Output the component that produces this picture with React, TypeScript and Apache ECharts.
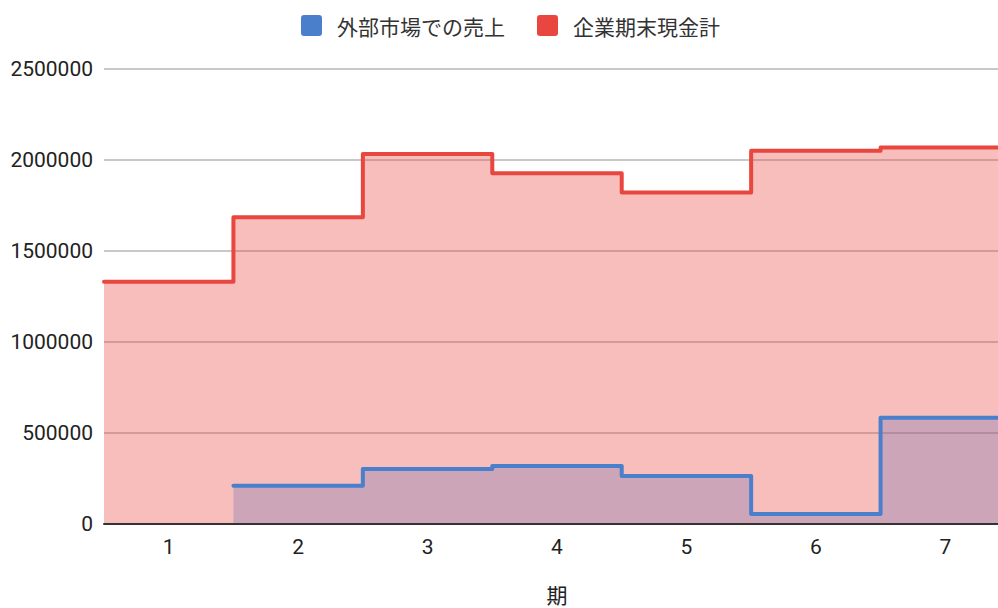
import React, { useEffect, useRef } from "react";
import * as echarts from "echarts";

const periods = ["1", "2", "3", "4", "5", "6", "7"];
const externalSales: (number | null)[] = [null, 210000, 302000, 318000, 264000, 55000, 584000];
const cashTotal: number[] = [1331000, 1685000, 2033000, 1927000, 1822000, 2051000, 2068000];
const seriesNames = ["外部市場での売上", "企業期末現金計"];
const yTicks = { min: 0, max: 2500000, interval: 500000 };

// Build step points at category boundaries (i - 0.5 .. i + 0.5 in 1-based period units)
function stepPoints(values: (number | null)[]) {
  const pts: [number, number][] = [];
  values.forEach((v, i) => {
    if (v !== null) pts.push([i + 0.5, v]);
  });
  const last = values[values.length - 1];
  if (last !== null) pts.push([values.length + 0.5, last]);
  return pts;
}

const legendIcon =
  "path://M3,0 H18 A3,3 0 0 1 21,3 V18 A3,3 0 0 1 18,21 H3 A3,3 0 0 1 0,18 V3 A3,3 0 0 1 3,0 Z";

export default function App() {
  const ref = useRef<HTMLDivElement>(null);
  useEffect(() => {
    if (!ref.current) return;
    const chart = echarts.init(ref.current, undefined, { renderer: "svg" });
    const blue = "#4a7fcb";
    const red = "#e8463f";
    chart.setOption({
      animation: false,
      backgroundColor: "#ffffff",
      textStyle: { fontFamily: "Roboto, 'Noto Sans CJK JP', sans-serif" },
      legend: {
        top: 10,
        left: 296,
        itemWidth: 21,
        itemHeight: 21,
        itemGap: 32,
        icon: legendIcon,
        textStyle: {
          fontSize: 21,
          color: "#333",
          fontFamily: "'Noto Sans CJK JP', sans-serif",
          padding: [0, 0, 0, 10],
        },
        data: seriesNames,
      },
      grid: {
        left: 104,
        top: 69,
        width: 906,
        height: 455,
        containLabel: false,
        outerBoundsMode: "none",
      },
      xAxis: [
        {
          type: "category",
          data: periods,
          boundaryGap: true,
          axisLine: { show: true, lineStyle: { color: "#333", width: 2 } },
          axisTick: { show: false },
          axisLabel: { fontSize: 21, color: "#222", margin: 12 },
          name: "期",
          nameLocation: "middle",
          nameGap: 59,
          nameTextStyle: { fontSize: 21, color: "#222", fontFamily: "'Noto Sans CJK JP', sans-serif" },
          z: 5,
        },
        {
          type: "value",
          min: 0.5,
          max: periods.length + 0.5,
          show: false,
        },
      ],
      yAxis: {
        type: "value",
        min: yTicks.min,
        max: yTicks.max,
        interval: yTicks.interval,
        axisLine: { show: false },
        axisTick: { show: false },
        axisLabel: { fontSize: 21, color: "#222", margin: 11, formatter: (v: number) => String(v) },
        splitLine: { lineStyle: { color: "#c8c8c8", width: 2 } },
      },
      series: [
        {
          name: seriesNames[1],
          type: "line",
          xAxisIndex: 1,
          step: "end",
          symbol: "none",
          data: stepPoints(cashTotal),
          itemStyle: { color: red },
          lineStyle: { color: red, width: 4, join: "round", cap: "round" },
          areaStyle: { color: red, opacity: 0.35 },
          z: 2,
        },
        {
          name: seriesNames[0],
          type: "line",
          xAxisIndex: 1,
          step: "end",
          symbol: "none",
          data: stepPoints(externalSales),
          itemStyle: { color: blue },
          lineStyle: { color: blue, width: 4, join: "round", cap: "round" },
          areaStyle: { color: "#6a6fb0", opacity: 0.3 },
          z: 3,
        },
      ],
    });
    return () => chart.dispose();
  }, []);
  return (
    <div
      ref={ref}
      style={{ position: "fixed", left: 0, top: 0, width: 998, height: 608, background: "#fff" }}
    />
  );
}
